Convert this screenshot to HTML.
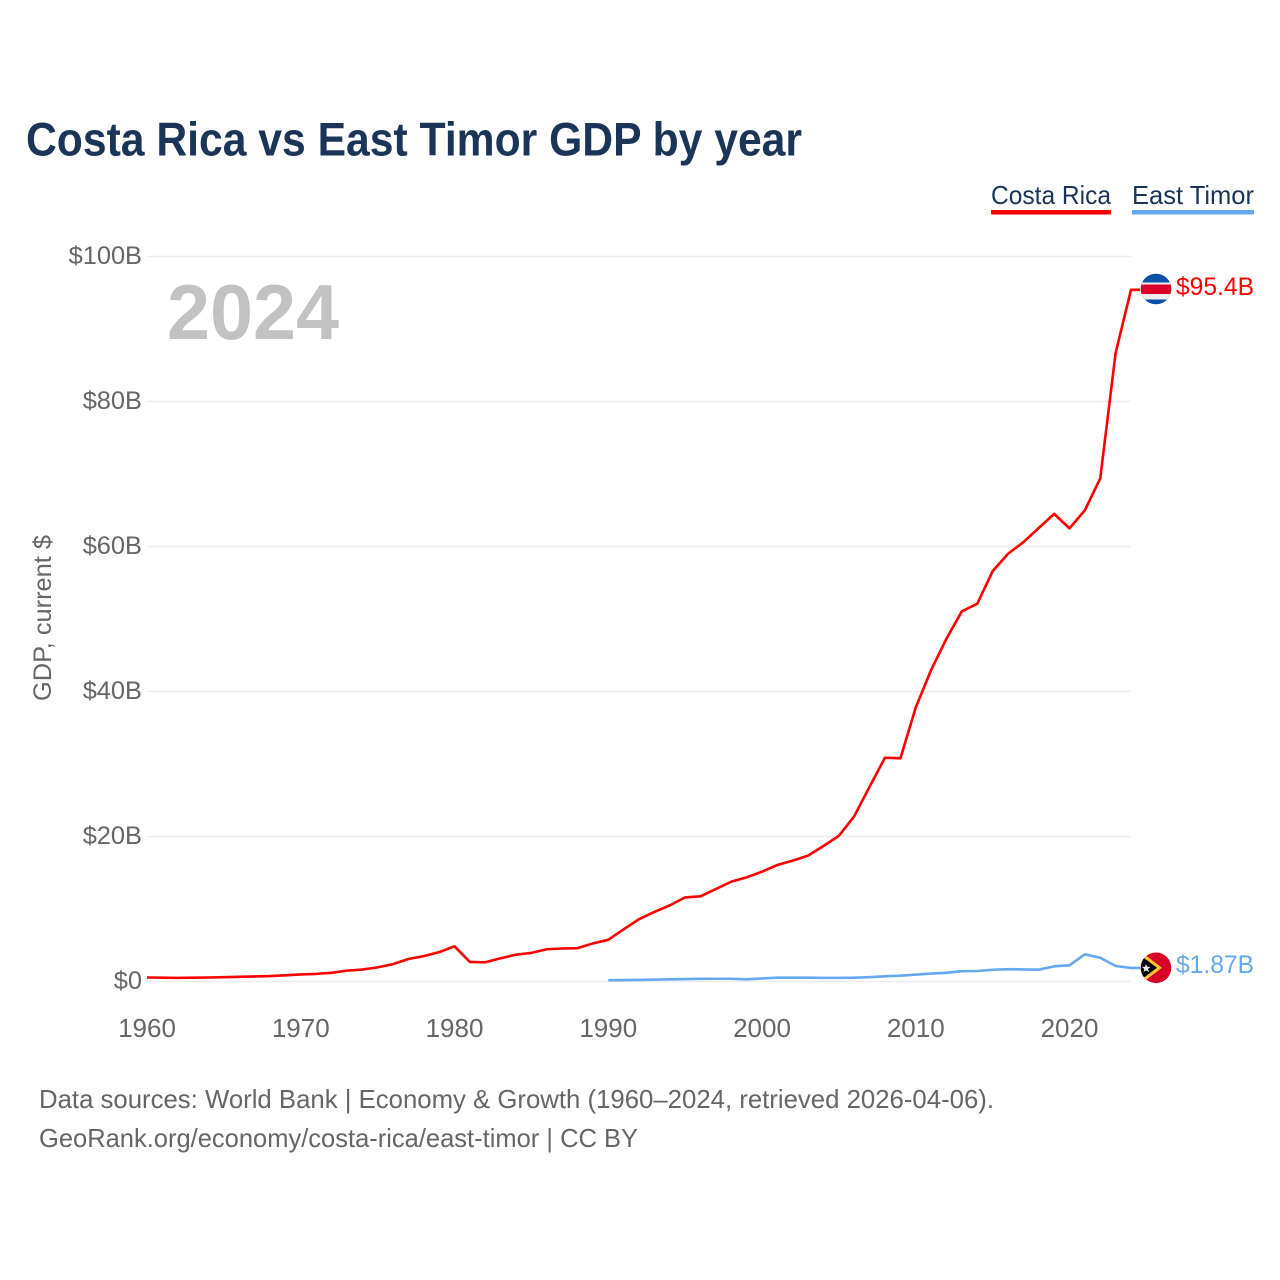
<!DOCTYPE html>
<html lang="en">
<head>
<meta charset="utf-8">
<title>Costa Rica vs East Timor GDP by year</title>
<style>
html,body{margin:0;padding:0;background:#fff;width:1280px;height:1280px;overflow:hidden}
svg{display:block}
text{font-family:"Liberation Sans",sans-serif}
</style>
</head>
<body>
<svg id="chart" xmlns="http://www.w3.org/2000/svg" width="1280" height="1280" viewBox="0 0 1280 1280">
  <defs>
    <clipPath id="clip-cr"><circle cx="1156" cy="289" r="15.3"/></clipPath>
    <clipPath id="clip-tl"><circle cx="1156" cy="967.8" r="15.3"/></clipPath>
  </defs>
  <rect x="0" y="0" width="1280" height="1280" fill="#ffffff"/>
  <text x="26" y="155.5" font-size="47" font-weight="700" fill="#1a3557" textLength="776" lengthAdjust="spacingAndGlyphs">Costa Rica vs East Timor GDP by year</text>

  <g>
    <text x="991" y="204" font-size="26" fill="#1a3557" textLength="120" lengthAdjust="spacingAndGlyphs">Costa Rica</text>
    <rect x="991" y="210" width="120" height="4.5" fill="#ff0000"/>
  </g>
  <g>
    <text x="1132" y="204" font-size="26" fill="#1a3557" textLength="122" lengthAdjust="spacingAndGlyphs">East Timor</text>
    <rect x="1132" y="210" width="122" height="4.5" fill="#64a8f0"/>
  </g>

  <g id="grid"></g>
  <g id="y-axis"></g>
  <g id="x-axis"></g>

  <text transform="translate(51,701) rotate(-90)" x="0" y="0" font-size="25" fill="#666666" textLength="166" lengthAdjust="spacingAndGlyphs">GDP, current $</text>
  <text x="167" y="339" font-size="78" font-weight="700" fill="#c2c2c2" textLength="172" lengthAdjust="spacingAndGlyphs">2024</text>

  <g id="series"></g>

  <g clip-path="url(#clip-cr)">
    <rect x="1140" y="273" width="32" height="32" fill="#0a4fa8"/>
    <rect x="1140" y="282.5" width="32" height="17" fill="#eeeeee"/>
    <rect x="1140" y="284.5" width="32" height="9.5" fill="#d80027"/>
  </g>
  <g clip-path="url(#clip-tl)">
    <rect x="1140" y="952" width="32" height="32" fill="#d80027"/>
    <polygon points="1140,951 1162,967.8 1140,984.5" fill="#ffc42e"/>
    <polygon points="1140,955 1157,967.8 1140,980.5" fill="#000000"/>
    <polygon points="1146,964 1147.2,966.8 1150.5,967 1148,969 1149,972 1146,970.4 1143.5,972 1144.3,969 1142,967 1145,966.8" fill="#eeeeee"/>
  </g>

  <text x="1176" y="295" font-size="25" fill="#ff0000" textLength="78" lengthAdjust="spacingAndGlyphs">$95.4B</text>
  <text x="1176" y="973" font-size="25" fill="#64a8f0" textLength="78" lengthAdjust="spacingAndGlyphs">$1.87B</text>

  <text x="39" y="1108" font-size="26" fill="#666666" textLength="955" lengthAdjust="spacingAndGlyphs">Data sources: World Bank | Economy &amp; Growth (1960–2024, retrieved 2026-04-06).</text>
  <text x="39" y="1147" font-size="26" fill="#666666" textLength="599" lengthAdjust="spacingAndGlyphs">GeoRank.org/economy/costa-rica/east-timor | CC BY</text>
</svg>
<script>
// Chart data, in billions of current US dollars
var costaRicaYears = [1960,1961,1962,1963,1964,1965,1966,1967,1968,1969,1970,1971,1972,1973,1974,1975,1976,1977,1978,1979,1980,1981,1982,1983,1984,1985,1986,1987,1988,1989,1990,1991,1992,1993,1994,1995,1996,1997,1998,1999,2000,2001,2002,2003,2004,2005,2006,2007,2008,2009,2010,2011,2012,2013,2014,2015,2016,2017,2018,2019,2020,2021,2022,2023,2024];
var costaRicaGdp = [0.55,0.52,0.5,0.52,0.55,0.6,0.65,0.7,0.75,0.85,0.98,1.05,1.2,1.5,1.65,1.95,2.4,3.1,3.5,4.05,4.85,2.7,2.65,3.2,3.7,3.95,4.45,4.55,4.6,5.25,5.75,7.2,8.6,9.6,10.5,11.6,11.75,12.76,13.77,14.37,15.15,16.07,16.67,17.36,18.69,20.1,22.8,26.87,30.87,30.78,37.8,42.96,47.3,51.06,52.1,56.6,59,60.6,62.55,64.5,62.5,65,69.4,86.7,95.4];
var eastTimorYears = [1990,1991,1992,1993,1994,1995,1996,1997,1998,1999,2000,2001,2002,2003,2004,2005,2006,2007,2008,2009,2010,2011,2012,2013,2014,2015,2016,2017,2018,2019,2020,2021,2022,2023,2024];
var eastTimorGdp = [0.18,0.2,0.22,0.26,0.3,0.34,0.37,0.38,0.38,0.3,0.42,0.53,0.53,0.52,0.5,0.5,0.52,0.6,0.72,0.8,0.95,1.1,1.2,1.42,1.45,1.62,1.7,1.66,1.63,2.09,2.23,3.75,3.28,2.14,1.87];
var xTickYears = [1960,1970,1980,1990,2000,2010,2020];
var xTickLabels = ['1960','1970','1980','1990','2000','2010','2020'];
var yTickValues = [0,20,40,60,80,100];
var yTickLabels = ['$0','$20B','$40B','$60B','$80B','$100B'];

var SVG_NS = 'http://www.w3.org/2000/svg';
function xScale(year) { return 147 + (year - 1960) * (1131 - 147) / 64; }
function yScale(value) { return 981.5 - value * (981.5 - 256.5) / 100; }
function make(tag, parentId, attrs, content) {
  var node = document.createElementNS(SVG_NS, tag);
  for (var key in attrs) { node.setAttribute(key, attrs[key]); }
  if (content !== undefined) { node.textContent = content; }
  document.getElementById(parentId).appendChild(node);
  return node;
}
function pathFor(years, values, extendTo) {
  var d = '';
  for (var i = 0; i < years.length; i++) {
    d += (i ? 'L' : 'M') + xScale(years[i]).toFixed(2) + ' ' + yScale(values[i]).toFixed(2);
  }
  d += 'L' + extendTo + ' ' + yScale(values[values.length - 1]).toFixed(2);
  return d;
}

yTickValues.forEach(function (value, i) {
  var line = make('line', 'grid', {x1: 147, x2: 1131, y1: yScale(value), y2: yScale(value), stroke: '#ececec', 'stroke-width': 1.5});
  
  
  var label = make('text', 'y-axis', {x: 142, y: yScale(value) + 7.5, 'text-anchor': 'end', 'font-size': 25.4, fill: '#666666'}, yTickLabels[i]);
  
  
});
xTickYears.forEach(function (year, i) {
  var label = make('text', 'x-axis', {x: xScale(year), y: 1037, 'text-anchor': 'middle', 'font-size': 26, fill: '#666666'}, xTickLabels[i]);
  
  
});

var eastTimorLine = make('path', 'series', {d: pathFor(eastTimorYears, eastTimorGdp, 1140), fill: 'none', stroke: '#64a8f0', 'stroke-width': 2.6, 'stroke-linejoin': 'round'});


var costaRicaLine = make('path', 'series', {d: pathFor(costaRicaYears, costaRicaGdp, 1140), fill: 'none', stroke: '#ff0000', 'stroke-width': 2.6, 'stroke-linejoin': 'round'});


</script>
</body>
</html>
